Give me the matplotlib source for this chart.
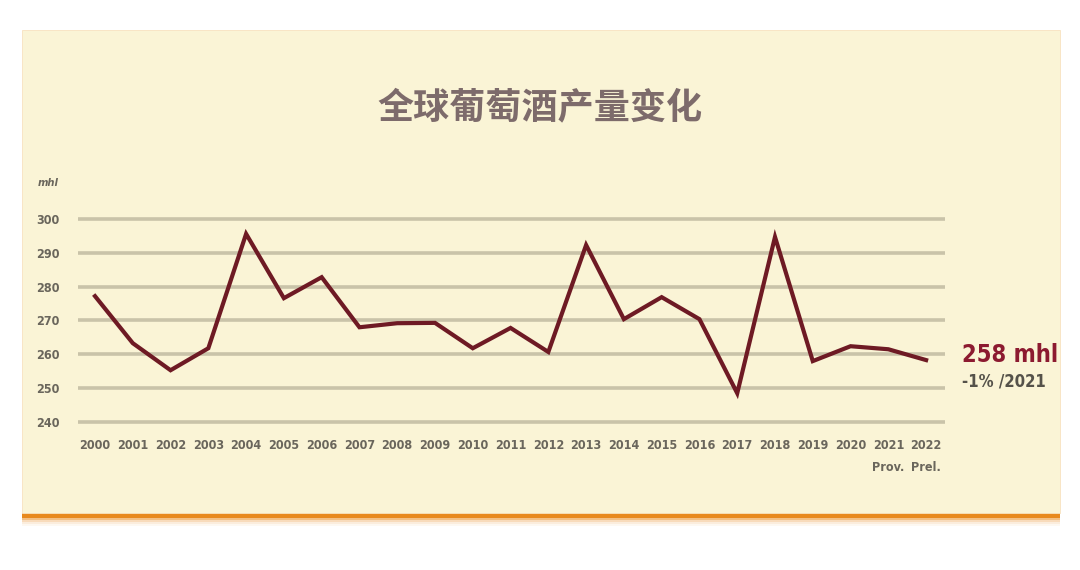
import matplotlib.pyplot as plt
from matplotlib.patches import Rectangle

# 数据
years = list(range(2000, 2023))
production = [277.2, 263.3, 255.3, 261.8, 295.6, 276.6, 282.8, 268.0, 269.2, 269.3,
              261.8, 267.8, 260.7, 292.3, 270.4, 276.9, 270.4, 248.5, 294.7, 258.0,
              262.4, 261.5, 258.3]
year_labels = [str(y) for y in years]
year_labels[-2] = '2021\nProv.'
year_labels[-1] = '2022\nPrel.'
y_ticks = [240, 250, 260, 270, 280, 290, 300]

title = '全球葡萄酒产量变化'
last_value_label = '258 mhl'
change_label = '-1% /2021'

bg_card = '#faf4d6'
line_color = '#6e1a24'
grid_color = '#c9c3a9'
tick_color = '#6a665c'
narrow = dict(family='DejaVu Sans', fontstretch='condensed')

W, H = 1080, 570
fig = plt.figure(figsize=(W / 100, H / 100), dpi=100)
fig.patch.set_facecolor('white')

# 卡片背景 + 橙色底边阴影
fig.add_artist(Rectangle((22 / W, (H - 518) / H), 1038 / W, 5 / H,
                         transform=fig.transFigure, color='#e8891e', lw=0, zorder=0))
for i, a in enumerate([0.55, 0.3, 0.15, 0.06]):
    fig.add_artist(Rectangle((22 / W, (H - 520 - i * 2) / H), 1038 / W, 2 / H,
                             transform=fig.transFigure, color='#e8891e',
                             alpha=a, lw=0, zorder=0))
fig.add_artist(Rectangle((22 / W, (H - 513) / H), 1038 / W, 483 / H,
                         transform=fig.transFigure, facecolor=bg_card,
                         edgecolor='#f8e2c0', lw=0.6, zorder=0.5))

fig.text(540 / W, 1 - 108 / H, title, ha='center', va='center', fontsize=26,
         fontweight='bold', color='#7d6b6b', family=['Noto Sans CJK SC', 'DejaVu Sans'])

ax = fig.add_axes([78 / W, 1 - 423.7 / H, 867 / W, 206.4 / H])
ax.set_zorder(2)
ax.set_facecolor('none')
ax.set_xlim(1999.55, 2022.5)
ax.set_ylim(239.5, 300.5)
ax.set_yticks(y_ticks)
ax.yaxis.grid(True, color=grid_color, lw=2.6)
ax.set_axisbelow(True)
for s in ax.spines.values():
    s.set_visible(False)
ax.tick_params(length=0)
ax.set_xticks(years)
ax.set_xticklabels(year_labels, fontsize=9, fontweight='bold', color=tick_color,
                   linespacing=1.9, va='top', multialignment='center', **narrow)
ax.set_yticklabels([str(v) for v in y_ticks], fontsize=9, fontweight='bold',
                   color=tick_color, **narrow)
ax.tick_params(axis='x', pad=11)
ax.tick_params(axis='y', pad=13)

ax.plot(years, production, color=line_color, lw=3, solid_joinstyle='miter', clip_on=False)

fig.text(48 / W, 1 - 183 / H, 'mhl', fontsize=8, style='italic', fontweight='bold',
         color=tick_color, ha='center', va='center', **narrow)
fig.text(962 / W, 1 - 355 / H, last_value_label, fontsize=17, fontweight='bold',
         color='#8c1a30', ha='left', va='center', **narrow)
fig.text(962 / W, 1 - 382 / H, change_label, fontsize=12, fontweight='bold',
         color='#55524a', ha='left', va='center', **narrow)

fig.savefig('out.png', dpi=100, facecolor=fig.get_facecolor())
